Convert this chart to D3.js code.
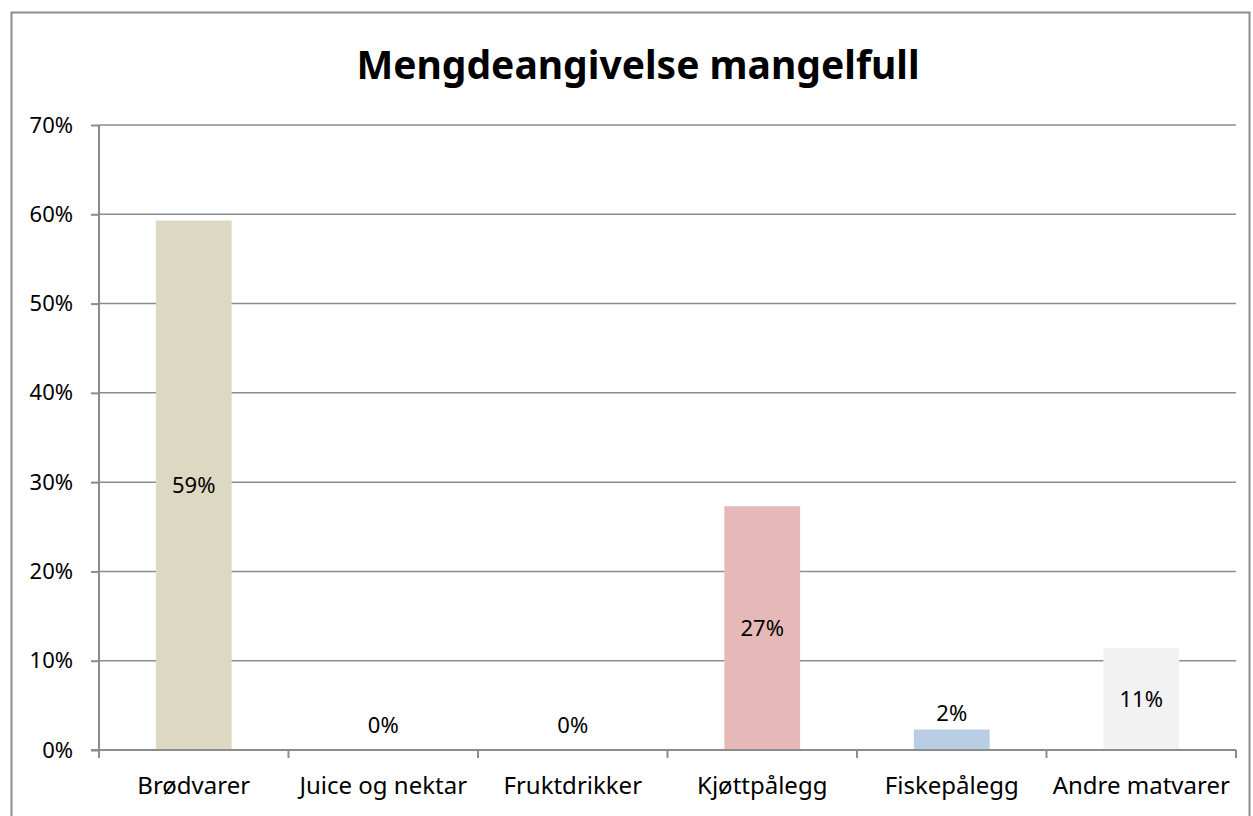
<!DOCTYPE html>
<html>
<head>
<meta charset="utf-8">
<script src="https://cdn.jsdelivr.net/npm/d3@7"></script>
<style>
  body { margin: 0; background: #fff; }
  svg { display: block; font-family: "Noto Sans", "Open Sans", sans-serif; }
</style>
</head>
<body>
<svg id="chart" width="1253" height="816"></svg>
<script>
const categories = ['Brødvarer', 'Juice og nektar', 'Fruktdrikker', 'Kjøttpålegg', 'Fiskepålegg', 'Andre matvarer'];
const values = [0.593, 0, 0, 0.273, 0.023, 0.114];
const barColors = ['#ddd8c2', '#ddd8c2', '#ddd8c2', '#e6b9b8', '#b9cde5', '#f2f2f2'];
const yTicks = [0, 0.1, 0.2, 0.3, 0.4, 0.5, 0.6, 0.7];
const title = 'Mengdeangivelse mangelfull';

const data = categories.map((c, i) => ({ cat: c, value: values[i], color: barColors[i] }));

const svg = d3.select('#chart');
const margin = { left: 99, right: 1236, top: 125, bottom: 750 };

// outer chart frame
svg.append('rect')
  .attr('x', 11.5).attr('y', 12.5)
  .attr('width', 1238).attr('height', 830)
  .attr('fill', 'none')
  .attr('stroke', '#8c8c8c')
  .attr('stroke-width', 2);

svg.append('text')
  .attr('x', 638).attr('y', 79)
  .attr('text-anchor', 'middle')
  .attr('font-weight', 'bold')
  .attr('font-size', 39)
  .attr('fill', '#000')
  .text(title);

const x = d3.scaleBand()
  .domain(categories)
  .range([margin.left, margin.right]);

const y = d3.scaleLinear()
  .domain([0, 0.7])
  .range([margin.bottom, margin.top]);

// gridlines
svg.append('g')
  .selectAll('line')
  .data(yTicks.slice(1))
  .join('line')
  .attr('x1', margin.left).attr('x2', margin.right)
  .attr('y1', d => y(d)).attr('y2', d => y(d))
  .attr('stroke', '#8c8c8c')
  .attr('stroke-width', 1.5);

// bars
const bw = x.bandwidth() * 0.4;
svg.append('g')
  .selectAll('rect')
  .data(data.filter(d => d.value > 0))
  .join('rect')
  .attr('x', d => x(d.cat) + (x.bandwidth() - bw) / 2)
  .attr('y', d => y(d.value))
  .attr('width', bw)
  .attr('height', d => y(0) - y(d.value))
  .attr('fill', d => d.color);

// y axis
const yAxis = svg.append('g')
  .attr('transform', `translate(${margin.left},0)`)
  .call(d3.axisLeft(y).tickValues(yTicks).tickFormat(d3.format('.0%')).tickSize(8).tickPadding(18))
  .attr('font-family', null)
  .attr('font-size', 22);
yAxis.select('.domain').attr('stroke', '#8c8c8c').attr('stroke-width', 2).attr('d', `M0,${margin.top}V${margin.bottom}`);
yAxis.selectAll('.tick line').attr('stroke', '#8c8c8c').attr('stroke-width', 2);
yAxis.selectAll('.tick text').attr('fill', '#000');

// x axis with ticks on category boundaries
const xAxisG = svg.append('g').attr('transform', `translate(0,${margin.bottom})`);
xAxisG.append('line')
  .attr('x1', margin.left - 8).attr('x2', margin.right)
  .attr('stroke', '#8c8c8c').attr('stroke-width', 2);
const bounds = categories.map(c => x(c)).concat([margin.right]);
xAxisG.selectAll('line.tk')
  .data(bounds)
  .join('line')
  .attr('class', 'tk')
  .attr('x1', d => d).attr('x2', d => d)
  .attr('y1', 0).attr('y2', 8)
  .attr('stroke', '#8c8c8c').attr('stroke-width', 2);
xAxisG.selectAll('text')
  .data(categories)
  .join('text')
  .attr('x', d => x(d) + x.bandwidth() / 2)
  .attr('y', 44)
  .attr('text-anchor', 'middle')
  .attr('font-size', 24)
  .attr('fill', '#000')
  .text(d => d);

// data labels
const fmt = d3.format('.0%');
svg.append('g')
  .selectAll('text')
  .data(data)
  .join('text')
  .attr('x', d => x(d.cat) + x.bandwidth() / 2)
  .attr('y', d => {
    const h = y(0) - y(d.value);
    return h > 60 ? (y(d.value) + y(0)) / 2 : y(d.value) - 25 + (d.value > 0 ? 9 : 0);
  })
  .attr('dy', '0.35em')
  .attr('text-anchor', 'middle')
  .attr('font-size', 22)
  .attr('fill', '#000')
  .text(d => fmt(d.value));
</script>
</body>
</html>
